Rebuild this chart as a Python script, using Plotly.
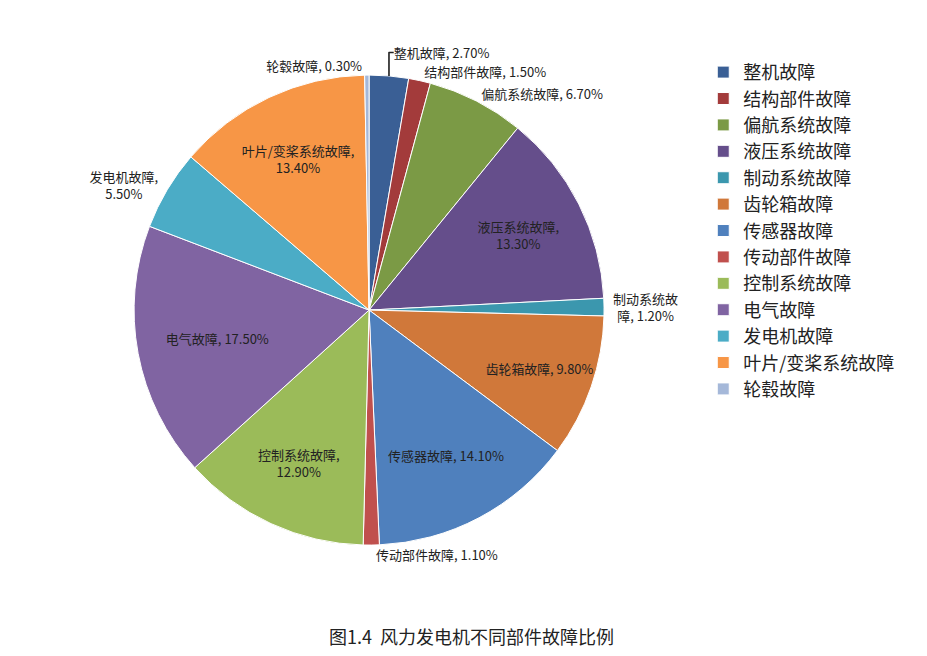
import plotly.graph_objects as go

categories = ["整机故障", "结构部件故障", "偏航系统故障", "液压系统故障", "制动系统故障",
              "齿轮箱故障", "传感器故障", "传动部件故障", "控制系统故障", "电气故障",
              "发电机故障", "叶片/变桨系统故障", "轮毂故障"]
values = [2.7, 1.5, 6.7, 13.3, 1.2, 9.8, 14.1, 1.1, 12.9, 17.5, 5.5, 13.4, 0.3]
colors = ["#3A5F95", "#A33B3B", "#7B9A45", "#654E8B", "#3B97AE", "#D0783A", "#4F80BD",
          "#C0504D", "#9BBB59", "#8064A2", "#4BACC6", "#F79646", "#A5B8D9"]

inside = {"液压系统故障", "齿轮箱故障", "传感器故障", "控制系统故障", "电气故障", "叶片/变桨系统故障"}
wrap = {"液压系统故障", "控制系统故障", "叶片/变桨系统故障"}
texts = []
for c, v in zip(categories, values):
    if c == "制动系统故障":
        texts.append("制动系统故<br>障, %.2f%%" % v)
    elif c == "发电机故障":
        texts.append("发电机故障,<br>%.2f%%" % v)
    else:
        sep = ",<br>" if c in wrap else ", "
        texts.append("%s%s%.2f%%" % (c, sep, v))
positions = ["inside" if c in inside else "outside" for c in categories]

fig = go.Figure(go.Pie(
    labels=categories, values=values, text=texts, textinfo="text",
    textposition=positions, insidetextorientation="horizontal",
    sort=False, direction="clockwise", rotation=0,
    marker=dict(colors=colors, line=dict(color="white", width=1)),
    textfont=dict(size=13, color="#222"),
    domain=dict(x=[0.136, 0.643], y=[0.181, 0.898]),
))
fig.update_layout(
    width=927, height=656, margin=dict(l=0, r=0, t=0, b=0),
    paper_bgcolor="white", font=dict(family="Noto Sans CJK SC", color="#222"),
    legend=dict(x=0.75, y=0.93, yanchor="top", font=dict(size=18), itemwidth=30),
    annotations=[dict(text="图1.4  风力发电机不同部件故障比例", x=0.5, y=0.02,
                      xref="paper", yref="paper", showarrow=False,
                      font=dict(size=18, family="Noto Sans CJK SC"))],
)
fig.write_html("out.html")
